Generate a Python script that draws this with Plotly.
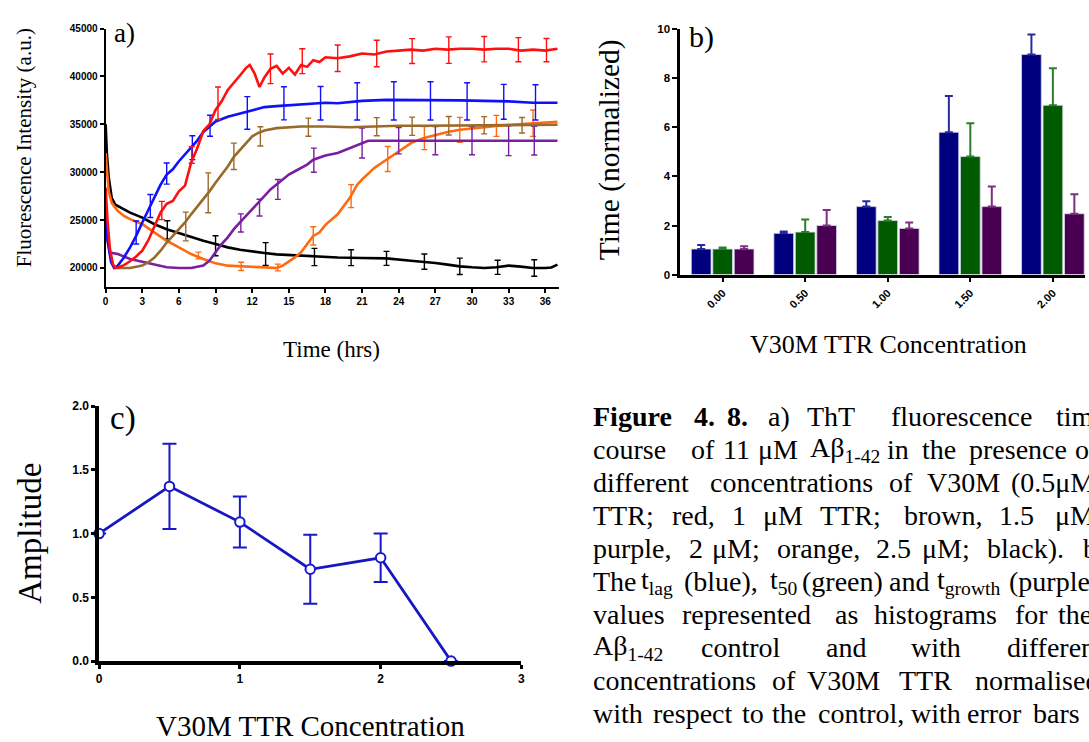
import plotly.graph_objects as go

# ---------------- Panel a data (ThT time course) ----------------
RED_T = [0, 0.15, 0.35, 0.6, 0.8, 1, 1.5, 2, 2.5, 3, 3.5, 4, 4.5, 5, 5.5, 6, 6.5, 7, 7.5, 8, 8.5, 9, 9.5,
         10, 10.5, 11, 11.5, 11.8, 12.2, 12.6, 13, 13.5, 14, 14.5, 15, 15.5, 16, 16.5, 17, 17.5, 18, 19, 20,
         21, 22, 23, 24, 25, 26, 27, 28, 29, 30, 31, 32, 33, 34, 35, 36, 37]
RED_V = [28400, 25000, 22000, 20400, 20000, 20050, 20300, 20700, 21200, 21800, 22900, 24300, 25800, 26700,
         27000, 28000, 28600, 31000, 32500, 34300, 35000, 36500, 37400, 38600, 39300, 40100, 40900, 41200,
         40300, 38900, 39900, 40800, 41100, 40300, 40900, 40200, 41200, 41000, 41700, 41500, 42000, 41900,
         42100, 42400, 42300, 42600, 42700, 42800, 42700, 42900, 42800, 42900, 42900, 42800, 42900, 42900,
         42700, 42800, 42700, 42900]
RED_ERR_T = [4.6, 7.05, 9.2, 13.5, 16.1, 19, 22.2, 25.1, 28.1, 31, 33.8, 36.1]
RED_ERR_V = [26000, 31800, 37200, 40800, 41600, 41900, 42400, 42650, 42750, 42850, 42800, 42750]
RED_ERR = [950, 870, 1700, 1550, 1300, 1380, 1380, 1300, 1380, 1330, 1260, 1210]

BLUE_T = [0, 0.2, 0.45, 0.7, 1, 1.5, 2, 2.5, 3, 3.5, 4, 4.5, 5, 5.5, 6, 6.5, 7, 7.5, 8, 8.5, 9, 10, 11,
          12, 13, 14, 15, 16, 17, 18, 19, 21, 23, 25, 27, 29, 31, 33, 35, 37]
BLUE_V = [24800, 22500, 20600, 20000, 20250, 21100, 22150, 23350, 24750, 26100, 27500, 28700, 29750, 30300,
          31150, 31850, 32600, 33300, 34200, 34800, 35300, 35800, 36150, 36500, 36800, 36900, 37000, 37100,
          37200, 37250, 37200, 37450, 37550, 37550, 37550, 37500, 37450, 37400, 37250, 37250]
BLUE_ERR_T = [2.5, 3.66, 5.0, 7.1, 8.55, 11.6, 14.6, 17.6, 20.6, 23.6, 26.6, 29.6, 32.6, 35.2]
BLUE_ERR_V = [23700, 26470, 29860, 32560, 34850, 36190, 37200, 37200, 37400, 37450, 37450, 37400, 37350, 37300]
BLUE_ERR = [1200, 1200, 1100, 1250, 1100, 1700, 1730, 1750, 1940, 1990, 1990, 1950, 1820, 1840]

BROWN_T = [0.6, 1, 2, 3, 3.5, 4, 4.5, 5, 5.5, 6, 6.5, 7, 7.5, 8, 8.5, 9, 9.5, 10, 10.5, 11, 11.5, 12,
           12.5, 13, 14, 15, 16, 17, 18, 20, 22, 24, 26, 28, 30, 32, 34, 36, 37]
BROWN_V = [20100, 20000, 20000, 20250, 20600, 21100, 21800, 22650, 23350, 24050, 24750, 25600, 26400, 27150,
           28000, 28900, 29750, 30600, 31600, 32350, 33050, 33750, 34100, 34350, 34600, 34700, 34780, 34780,
           34780, 34700, 34800, 34850, 34850, 34880, 34900, 34900, 34900, 34950, 34950]
BROWN_ERR_T = [6.56, 8.4, 10.5, 12.67, 16.6, 22.2, 25.1, 28.1, 31, 34.1]
BROWN_ERR_V = [24330, 27850, 31660, 33740, 34700, 34750, 34800, 34850, 34900, 34900]
BROWN_ERR = [1500, 2080, 1380, 1000, 950, 950, 950, 970, 900, 810]

PURPLE_T = [0, 0.15, 0.35, 1, 2, 3, 4, 5, 6, 7, 8, 8.5, 9, 9.5, 10, 10.5, 11, 11.5, 12, 12.5, 13, 13.5,
            14, 14.5, 15, 15.5, 16, 16.5, 17, 18, 19, 20, 21, 21.5, 23, 25, 27, 29, 31, 33, 35, 37]
PURPLE_V = [25800, 23000, 21600, 21450, 20930, 20650, 20400, 20070, 20000, 20000, 20250, 20760, 21630,
            22500, 23200, 24050, 24750, 25430, 26100, 26800, 27500, 28200, 28720, 29240, 29750, 30100,
            30450, 30800, 31300, 31750, 32000, 32520, 33050, 33290, 33290, 33290, 33290, 33290, 33290,
            33290, 33290, 33290]
PURPLE_ERR_T = [11.07, 12.6, 14.1, 17.05, 21.0, 24.0, 27.0, 30.0, 33.0, 35.1]
PURPLE_ERR_V = [24700, 26300, 28200, 31250, 33050, 33290, 33290, 33290, 33290, 33290]
PURPLE_ERR = [950, 870, 1040, 1260, 1560, 1380, 1470, 1470, 1560, 1500]

ORANGE_T = [0, 0.1, 0.25, 0.5, 1, 1.5, 2, 3, 4, 5, 6, 7, 8, 9, 10, 11, 12, 13, 14, 14.5, 15, 15.5, 16,
            16.5, 17, 17.5, 18, 19, 20, 20.6, 21, 22, 23, 24, 25, 26, 27, 28, 29, 30, 31, 32, 33, 34, 35,
            36, 37]
ORANGE_V = [32000, 30000, 28000, 26800, 25950, 25430, 25100, 24570, 23700, 22840, 22150, 21450, 20930,
            20480, 20240, 20170, 20140, 20070, 20000, 20240, 20660, 21100, 21630, 22500, 23350, 23700,
            24500, 25600, 27330, 28700, 29240, 30450, 31300, 32180, 33040, 33560, 33900, 34190, 34430,
            34600, 34700, 34840, 34950, 35050, 35120, 35200, 35260]
ORANGE_ERR_T = [7.6, 11.1, 14.1, 17.0, 20.1, 23.1, 26.1, 29.0, 32.0, 35.0]
ORANGE_ERR_V = [21300, 20170, 20050, 23350, 27500, 31380, 33560, 34430, 34840, 35120]
ORANGE_ERR = [350, 430, 350, 950, 1200, 1300, 1200, 1300, 1100, 1380]

BLACK_T = [0, 0.1, 0.25, 0.5, 0.8, 1.2, 1.5, 2, 3, 4, 5, 6, 7, 8, 9, 10, 11, 12, 13, 14, 15, 16, 17, 18,
           19, 21, 23, 25, 26, 27, 28, 29, 30, 31, 32, 33, 34, 35, 36, 36.5, 37]
BLACK_V = [35000, 32000, 29500, 27300, 26600, 26300, 26100, 25780, 25260, 24570, 24050, 23630, 23180,
           22840, 22500, 22150, 21900, 21700, 21560, 21420, 21350, 21280, 21210, 21110, 21100, 21040,
           21000, 20760, 20660, 20520, 20350, 20170, 20070, 20000, 20070, 20240, 20140, 20000, 20000,
           20050, 20350]
BLACK_ERR_T = [5.05, 9.0, 13.1, 17.1, 20.1, 23.0, 26.1, 29.0, 32.1, 35.1]
BLACK_ERR_V = [23980, 22320, 21450, 21140, 21070, 21000, 20660, 20170, 20070, 20000]
BLACK_ERR = [950, 1040, 1200, 900, 830, 730, 800, 860, 740, 860]

A_XTICKS = [0, 3, 6, 9, 12, 15, 18, 21, 24, 27, 30, 33, 36]
A_YTICKS = [20000, 25000, 30000, 35000, 40000, 45000]

# ---------------- Panel b data ----------------
CONC_LABELS = ["0.00", "0.50", "1.00", "1.50", "2.00"]
T_LAG = [1.04, 1.68, 2.77, 5.80, 8.97]
T_LAG_ERR = [0.16, 0.08, 0.22, 1.48, 0.82]
T_50 = [1.04, 1.73, 2.20, 4.81, 6.90]
T_50_ERR = [0.06, 0.51, 0.15, 1.36, 1.51]
T_GROWTH = [1.04, 2.00, 1.88, 2.77, 2.48]
T_GROWTH_ERR = [0.11, 0.63, 0.24, 0.82, 0.79]

# ---------------- Panel c data ----------------
AMP_CONC = [0, 0.5, 1, 1.5, 2, 2.5]
AMP = [1.0, 1.37, 1.09, 0.72, 0.81, 0.0]
AMP_ERR = [None, 0.335, 0.20, 0.27, 0.19, None]

W, H = 1089, 742


def px(x):
    return x / W


def py(y):
    return 1 - y / H


fig = go.Figure()

series_a = [
    (BLACK_T, BLACK_V, BLACK_ERR_T, BLACK_ERR_V, BLACK_ERR, "#000000"),
    (ORANGE_T, ORANGE_V, ORANGE_ERR_T, ORANGE_ERR_V, ORANGE_ERR, "#ff6a10"),
    (PURPLE_T, PURPLE_V, PURPLE_ERR_T, PURPLE_ERR_V, PURPLE_ERR, "#7a1fa0"),
    (BROWN_T, BROWN_V, BROWN_ERR_T, BROWN_ERR_V, BROWN_ERR, "#9a6a2a"),
    (BLUE_T, BLUE_V, BLUE_ERR_T, BLUE_ERR_V, BLUE_ERR, "#1010ff"),
    (RED_T, RED_V, RED_ERR_T, RED_ERR_V, RED_ERR, "#ff1010"),
]
for t, v, et, ev, ee, c in series_a:
    fig.add_trace(go.Scatter(x=t, y=v, mode="lines", line=dict(color=c, width=2.6),
                             xaxis="x", yaxis="y", showlegend=False, hoverinfo="skip"))
    fig.add_trace(go.Scatter(x=et, y=ev, mode="markers", marker=dict(size=1, color=c),
                             error_y=dict(type="data", array=ee, color=c, thickness=1.4, width=3),
                             xaxis="x", yaxis="y", showlegend=False, hoverinfo="skip"))

# Panel b bars
for vals, errs, col, ecol in [
    (T_LAG, T_LAG_ERR, "#00007e", "#2a2aa0"),
    (T_50, T_50_ERR, "#005a00", "#2c7d2c"),
    (T_GROWTH, T_GROWTH_ERR, "#4a0052", "#7f2e80"),
]:
    fig.add_trace(go.Bar(x=CONC_LABELS, y=vals,
                         marker=dict(color=col, line=dict(width=0.8, color="#d8d8e8")),
                         error_y=dict(type="data", symmetric=False, array=errs,
                                      arrayminus=[0] * len(errs), color=ecol, thickness=2, width=4),
                         xaxis="x2", yaxis="y2", showlegend=False, hoverinfo="skip"))

# Panel c
fig.add_trace(go.Scatter(x=AMP_CONC, y=AMP, mode="lines+markers",
                         line=dict(color="#1818c0", width=2.8),
                         marker=dict(size=9.5, color="white", line=dict(color="#1818d0", width=2)),
                         error_y=dict(type="data", array=AMP_ERR, color="#1818c8", thickness=2, width=7),
                         cliponaxis=False, xaxis="x3", yaxis="y3", showlegend=False, hoverinfo="skip"))

tickf = dict(family="Liberation Sans", size=10, color="black", weight="bold")
common = dict(showgrid=False, zeroline=False, showline=True, linecolor="black", ticks="outside",
              tickcolor="black")

fig.update_layout(
    width=W, height=H, margin=dict(l=0, r=0, t=0, b=0),
    paper_bgcolor="white", plot_bgcolor="white",
    barmode="group", bargap=0.22, bargroupgap=0.08,
    xaxis=dict(domain=[px(103.3), px(559.3)], range=[0, 37.1], tickvals=A_XTICKS, anchor="y",
               linewidth=2, ticklen=4, tickwidth=1.5, tickfont=tickf, **common),
    yaxis=dict(domain=[py(285.5), py(22)], range=[18000, 45000], tickvals=A_YTICKS, tickformat="d",
               anchor="x", linewidth=2, ticklen=4, tickwidth=1.5, tickfont=tickf, **common),
    xaxis2=dict(domain=[px(681.5), 1.0], type="category", range=[-0.515, 4.389], anchor="y2",
                tickangle=-45, linewidth=2.5, ticklen=5, tickwidth=2,
                tickfont=dict(family="Liberation Sans", size=11, color="black", weight="bold"), **common),
    yaxis2=dict(domain=[py(272.7), py(22.7)], range=[0, 10], dtick=2, anchor="x2",
                linewidth=2.5, ticklen=5, tickwidth=2,
                tickfont=dict(family="Liberation Sans", size=11.5, color="black", weight="bold"), **common),
    xaxis3=dict(domain=[px(96.7), px(521.8)], range=[0, 3], dtick=1, anchor="y3",
                linewidth=3.5, ticklen=4, tickwidth=2.5,
                tickfont=dict(family="Liberation Sans", size=12, color="black", weight="bold"), **common),
    yaxis3=dict(domain=[py(666.7), py(406.7)], range=[0, 2], dtick=0.5, tickformat=".1f", anchor="x3",
                linewidth=3.5, ticklen=4, tickwidth=2.5,
                tickfont=dict(family="Liberation Sans", size=12, color="black", weight="bold"), **common),
)

serif = "Liberation Serif"
ann = []


def add_text(x, y, text, size, angle=0, xanchor="center", color="black"):
    ann.append(dict(x=px(x), y=py(y), xref="paper", yref="paper", text=text, showarrow=False,
                    textangle=angle, xanchor=xanchor, yanchor="middle",
                    font=dict(family=serif, size=size, color=color)))


# Axis titles and panel labels
add_text(21, 143, "Fluorescence Intensity (a.u.)", 21, angle=-90)
add_text(331, 349, "Time (hrs)", 23)
add_text(122, 27, "a)", 27)
add_text(610, 146, "Time (normalized)", 29.5, angle=-90)
add_text(891, 344, "V30M TTR Concentration", 26)
add_text(703, 31, "b)", 30)
add_text(27, 536, "Amplitude", 33, angle=-90)
add_text(309, 733, "V30M TTR Concentration", 29)
add_text(121, 419, "c)", 33)

# Caption (justified text: each word placed on its line)
caption = [
    [(591.7, "<b>Figure</b>"), (693, "<b>4.</b>"), (726.7, "<b>8.</b>"), (768, "a)"), (806.7, "ThT"),
     (891.7, "fluorescence"), (1058, "time")],
    [(592, "course"), (690, "of"), (723, "11"), (758, "μM"), (810, "Aβ<sub>1-42</sub>"), (888, "in"),
     (923, "the"), (970, "presence"), (1076.7, "of")],
    [(592, "different"), (710, "concentrations"), (890, "of"), (928, "V30M"), (1013, "(0.5μM")],
    [(592, "TTR;"), (671.7, "red,"), (731.7, "1"), (763, "μM"), (820, "TTR;"), (905, "brown,"),
     (1000, "1.5"), (1056.7, "μM;")],
    [(592, "purple,"), (688, "2"), (711.7, "μM;"), (776.7, "orange,"), (876.7, "2.5"), (923, "μM;"),
     (988, "black)."), (1085, "b)")],
    [(592, "The"), (640, "t<sub>lag</sub>"), (683, "(blue),"), (770, "t<sub>50</sub>"), (802, "(green)"),
     (890, "and"), (938, "t<sub>growth</sub>"), (1010, "(purple)")],
    [(592, "values"), (681.7, "represented"), (835, "as"), (875, "histograms"), (1016.7, "for"),
     (1060, "the")],
    [(592, "Aβ<sub>1-42</sub>"), (700, "control"), (826.7, "and"), (911.7, "with"), (1008, "different")],
    [(592, "concentrations"), (771.7, "of"), (806.7, "V30M"), (900, "TTR"), (976.7, "normalised")],
    [(592, "with"), (652, "respect"), (742, "to"), (772, "the"), (818, "control,"), (912, "with"),
     (968, "error"), (1035, "bars")],
]
for i, words in enumerate(caption):
    yline = 417 + 33.7 * i
    for x, w in words:
        add_text(x, yline, w, 28, xanchor="left")

fig.update_layout(annotations=ann)
fig.write_html("out.html")
